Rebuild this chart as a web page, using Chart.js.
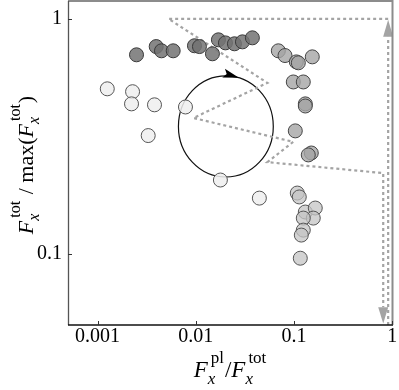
<!DOCTYPE html>
<html><head><meta charset="utf-8">
<script src="https://cdn.jsdelivr.net/npm/chart.js@4/dist/chart.umd.min.js"></script>
<style>html,body{margin:0;padding:0;background:#fff;}#wrap{width:399px;height:390px;}</style>
</head><body><div id="wrap"><canvas id="c" width="399" height="390"></canvas></div>
<script>
// ---- tick values / labels ----
const xTicks = [0.001, 0.01, 0.1, 1];
const xTickLabels = ['0.001', '0.01', '0.1', '1'];
const yTicks = [0.1, 1];
const yTickLabels = ['0.1', '1'];

// ---- series (x = F_pl/F_tot, y = F_tot/max F_tot) ----
const darkX = [0.00249, 0.00395, 0.00447, 0.00588, 0.00968, 0.01088, 0.01475, 0.01697, 0.0200, 0.0247, 0.0298, 0.0376];
const darkY = [0.703, 0.762, 0.731, 0.731, 0.768, 0.762, 0.710, 0.814, 0.790, 0.783, 0.798, 0.830];

const midX = [0.0691, 0.0808, 0.1053, 0.1104, 0.1531, 0.0981, 0.124, 0.130, 0.130, 0.1028, 0.1496, 0.1394];
const midY = [0.731, 0.698, 0.656, 0.650, 0.689, 0.539, 0.539, 0.435, 0.426, 0.334, 0.269, 0.264];

const paleX = [0.1077, 0.1129, 0.130, 0.1642, 0.1567, 0.124, 0.124, 0.1184, 0.1156];
const paleY = [0.1818, 0.175, 0.151, 0.157, 0.1423, 0.1423, 0.1265, 0.1205, 0.0961];

const lightX = [0.001255, 0.00227, 0.002215, 0.003795, 0.00784, 0.003275, 0.01778, 0.0443];
const lightY = [0.504, 0.490, 0.435, 0.431, 0.422, 0.319, 0.2065, 0.173];

// ---- guide paths (data units) ----
const pathAX = [0.906, 0.00527, 0.0535, 0.00946, 0.098, 0.0535, 0.807, 0.807];
const pathAY = [1.0, 1.0, 0.534, 0.379, 0.300, 0.246, 0.221, 0.0595];
const pathBX = [0.906, 0.906];
const pathBY = [0.05, 0.838];
// arrowheads: [x, baseY, tipY]
const arrowHeads = [[0.807, 0.0595, 0.0508], [0.906, 0.838, 0.99]];
// cycle ellipse bounds: [xLeft, xRight, yTop, yBottom]
const ellipseBox = [0.00665, 0.0614, 0.572, 0.2127];

const pts = (xs, ys) => xs.map((x, i) => ({x, y: ys[i]}));
const SERIF = '"Liberation Serif", "Times New Roman", serif';

function pointSet(xs, ys, fill, edge) {
  return {data: pts(xs, ys), backgroundColor: fill, borderColor: edge, borderWidth: 1,
    pointRadius: 7, pointHoverRadius: 7, showLine: false};
}
function lineSet(xs, ys) {
  return {data: pts(xs, ys), showLine: true, borderColor: '#a4a4a4', borderWidth: 2.2,
    borderDash: [3, 3], pointRadius: 0, fill: false, tension: 0};
}

const bgPlugin = {
  id: 'bg',
  beforeDatasetsDraw(chart) {
    const {ctx, scales: {x, y}} = chart;
    const l = x.getPixelForValue(ellipseBox[0]), r = x.getPixelForValue(ellipseBox[1]);
    const t = y.getPixelForValue(ellipseBox[2]), b = y.getPixelForValue(ellipseBox[3]);
    const cx = (l + r) / 2, cy = (t + b) / 2, rx = (r - l) / 2, ry = (b - t) / 2;
    ctx.save();
    ctx.strokeStyle = '#111'; ctx.lineWidth = 1.2;
    ctx.beginPath(); ctx.ellipse(cx, cy, rx, ry, 0, 0, Math.PI * 2); ctx.stroke();
    const a = -74 * Math.PI / 180;
    const tx = cx + rx * Math.cos(a), ty = cy + ry * Math.sin(a);
    let dx = -rx * Math.sin(a), dy = ry * Math.cos(a);
    const n = Math.hypot(dx, dy); dx /= n; dy /= n;
    const L = 16, W = 4.5;
    ctx.fillStyle = '#000';
    ctx.beginPath();
    ctx.moveTo(tx, ty);
    ctx.lineTo(tx - dx * L - dy * W, ty - dy * L + dx * W);
    ctx.lineTo(tx - dx * L * 0.8, ty - dy * L * 0.8);
    ctx.lineTo(tx - dx * L + dy * W, ty - dy * L - dx * W);
    ctx.closePath(); ctx.fill();
    ctx.restore();
  },
  afterDatasetsDraw(chart) {
    const {ctx, scales: {x, y}} = chart;
    ctx.save();
    ctx.fillStyle = '#a4a4a4';
    for (const [ax, by, ty] of arrowHeads) {
      const px = x.getPixelForValue(ax), pb = y.getPixelForValue(by), pt = y.getPixelForValue(ty);
      ctx.beginPath();
      ctx.moveTo(px, pt); ctx.lineTo(px - 5, pb); ctx.lineTo(px + 5, pb); ctx.closePath(); ctx.fill();
    }
    ctx.restore();
  }
};

function drawMath(ctx, parts, cx, base, main, scr, supOff, subOff) {
  let w = 0; const items = [];
  for (const p of parts) {
    if (p.t !== undefined) {
      ctx.font = (p.i ? 'italic ' : '') + main + 'px ' + SERIF;
      const m = ctx.measureText(p.t).width;
      items.push({p, x: w}); w += m;
    } else {
      ctx.font = scr + 'px ' + SERIF; const ws = ctx.measureText(p.sup).width;
      ctx.font = 'italic ' + scr + 'px ' + SERIF; const wb = ctx.measureText(p.sub).width;
      items.push({p, x: w + 1}); w += Math.max(ws + 2, wb) + 2;
    }
  }
  const x0 = cx - w / 2;
  ctx.fillStyle = '#000'; ctx.textBaseline = 'alphabetic'; ctx.textAlign = 'left';
  for (const {p, x} of items) {
    if (p.t !== undefined) {
      ctx.font = (p.i ? 'italic ' : '') + main + 'px ' + SERIF;
      ctx.fillText(p.t, x0 + x, base);
    } else {
      ctx.font = scr + 'px ' + SERIF; ctx.fillText(p.sup, x0 + x + 2, base - supOff);
      ctx.font = 'italic ' + scr + 'px ' + SERIF; ctx.fillText(p.sub, x0 + x - 1, base + subOff);
    }
  }
}

const framePlugin = {
  id: 'frame',
  afterDraw(chart) {
    const {ctx, chartArea: ca, scales: {x, y}} = chart;
    ctx.save();
    ctx.strokeStyle = '#8c8c8c'; ctx.lineWidth = 2;
    ctx.beginPath(); ctx.moveTo(ca.left, ca.top); ctx.lineTo(ca.right - 0.5, ca.top); ctx.lineTo(ca.right - 0.5, ca.bottom); ctx.stroke();
    ctx.strokeStyle = '#555'; ctx.lineWidth = 1.3;
    ctx.beginPath(); ctx.moveTo(ca.left + 0.5, ca.top); ctx.lineTo(ca.left + 0.5, ca.bottom); ctx.stroke();
    ctx.strokeStyle = '#111'; ctx.lineWidth = 1.5;
    ctx.beginPath(); ctx.moveTo(ca.left, ca.bottom); ctx.lineTo(ca.right, ca.bottom); ctx.stroke();
    ctx.strokeStyle = '#333'; ctx.lineWidth = 1;
    for (const v of xTicks) { const px = Math.round(x.getPixelForValue(v)) + 0.5; ctx.beginPath(); ctx.moveTo(px, ca.bottom); ctx.lineTo(px, ca.bottom - 4); ctx.stroke(); }
    for (const v of yTicks) { const py = Math.round(y.getPixelForValue(v)) + 0.5; ctx.beginPath(); ctx.moveTo(ca.left, py); ctx.lineTo(ca.left + 4, py); ctx.stroke(); }
    const cxm = (ca.left + ca.right) / 2;
    drawMath(ctx, [{t: 'F', i: true}, {sup: 'pl', sub: 'x'}, {t: '/'}, {t: 'F', i: true}, {sup: 'tot', sub: 'x'}], cxm, 377, 23, 17, 14, 7);
    ctx.translate(33, 165); ctx.rotate(-Math.PI / 2);
    drawMath(ctx, [{t: 'F', i: true}, {sup: 'tot', sub: 'x'}, {t: ' / max('}, {t: 'F', i: true}, {sup: 'tot', sub: 'x'}, {t: ')'}], 0, 0, 22, 16, 13, 6);
    ctx.restore();
  }
};

new Chart(document.getElementById('c'), {
  type: 'scatter',
  data: {datasets: [
    pointSet(lightX, lightY, 'rgba(238,238,238,0.85)', '#555'),
    pointSet(paleX, paleY, 'rgba(196,196,196,0.75)', '#555'),
    pointSet(midX, midY, 'rgba(165,165,165,0.8)', '#444'),
    pointSet(darkX, darkY, 'rgba(115,115,115,0.85)', '#3a3a3a'),
    lineSet(pathAX, pathAY),
    lineSet(pathBX, pathBY)
  ]},
  options: {
    responsive: false, animation: false, devicePixelRatio: 1,
    layout: {autoPadding: false, padding: {top: 1, right: 6, left: 0, bottom: 0}},
    plugins: {legend: {display: false}, tooltip: {enabled: false}},
    scales: {
      x: {type: 'logarithmic', min: 0.0005, max: 1.015, position: 'bottom',
        grid: {display: false, drawTicks: false}, border: {display: false},
        ticks: {font: {family: SERIF, size: 20}, color: '#000', padding: 0, maxRotation: 0, autoSkip: false,
          callback: (v, i) => xTickLabels[i]},
        afterBuildTicks: s => { s.ticks = xTicks.map(v => ({value: v})); },
        afterFit: s => { s.height = 65; s.paddingLeft = 0; s.paddingRight = 0; }
      },
      y: {type: 'logarithmic', min: 0.05, max: 1.19, position: 'left',
        grid: {display: false, drawTicks: false}, border: {display: false},
        ticks: {font: {family: SERIF, size: 20}, color: '#000', padding: 6, autoSkip: false,
          callback: (v, i) => yTickLabels[i]},
        afterBuildTicks: s => { s.ticks = yTicks.map(v => ({value: v})); },
        afterFit: s => { s.width = 68; s.paddingTop = 0; s.paddingBottom = 0; }
      }
    }
  },
  plugins: [bgPlugin, framePlugin]
});
</script>
</body></html>
